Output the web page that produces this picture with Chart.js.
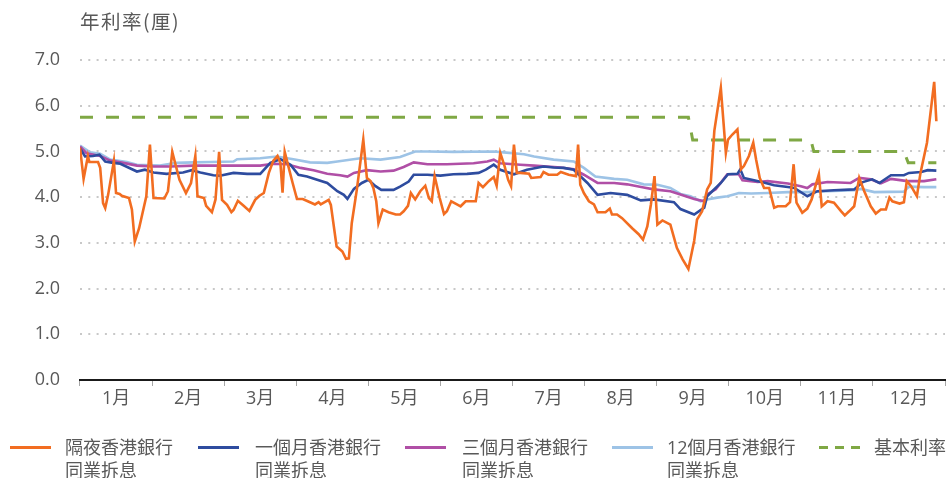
<!DOCTYPE html>
<html>
<head>
<meta charset="utf-8">
<script src="https://cdn.jsdelivr.net/npm/chart.js@4"></script>
<style>
  body { margin: 0; background: #fff; }
  #wrap { position: relative; width: 948px; height: 478px; font-family: 'Open Sans', 'Noto Sans CJK TC', sans-serif; color: #595959; }
  #chart { position: absolute; left: 0; top: 0; }
  .title { position: absolute; left: 80px; top: 7px; font-family: 'Noto Sans CJK TC', sans-serif; font-size: 19.5px; letter-spacing: 1.5px; line-height: 28px; }
  .lg { position: absolute; top: 436px; font-size: 18px; line-height: 23px; }
  .lg .swatch { position: absolute; top: 10px; height: 0; border-top: 3px solid; }
  .lg .txt { position: absolute; white-space: nowrap; }
</style>
</head>
<body>
<div id="wrap">
  <canvas id="chart" width="948" height="478"></canvas>
  <div class="title">年利率(厘)</div>
  <div id="legend"></div>
</div>
<script>
// month labels on the x axis
const months = ['1月', '2月', '3月', '4月', '5月', '6月', '7月', '8月', '9月', '10月', '11月', '12月'];

// time is in months since 1 Jan (0 = start of Jan, 12 = end of Dec)
// overnight HIBOR
const ovnT = [0.00, 0.05, 0.11, 0.13, 0.25, 0.28, 0.32, 0.35, 0.39, 0.47, 0.50, 0.55, 0.58, 0.68, 0.72, 0.76, 0.82, 0.92, 0.97,
  1.02, 1.17, 1.22, 1.28, 1.38, 1.47, 1.54, 1.60, 1.63, 1.72, 1.75, 1.83, 1.88, 1.93, 1.97,
  2.04, 2.10, 2.13, 2.19, 2.27, 2.35, 2.43, 2.49, 2.55, 2.62, 2.68, 2.74, 2.78, 2.81, 2.84, 2.89, 2.95,
  3.01, 3.09, 3.16, 3.26, 3.31, 3.34, 3.45, 3.48, 3.56, 3.64, 3.69, 3.73, 3.77, 3.84, 3.93, 3.98,
  4.03, 4.07, 4.11, 4.14, 4.20, 4.28, 4.38, 4.44, 4.49, 4.55, 4.59, 4.65, 4.72, 4.79, 4.84, 4.88, 4.92, 4.99,
  5.05, 5.09, 5.15, 5.21, 5.28, 5.35, 5.49, 5.53, 5.59, 5.67, 5.74, 5.78, 5.83, 5.89, 5.94, 5.98,
  6.02, 6.06, 6.11, 6.23, 6.26, 6.39, 6.43, 6.50, 6.62, 6.67, 6.78, 6.88, 6.91, 6.94, 6.99,
  7.06, 7.13, 7.18, 7.29, 7.35, 7.38, 7.45, 7.52, 7.66, 7.75, 7.81, 7.87, 7.92, 7.97,
  8.01, 8.08, 8.19, 8.28, 8.36, 8.44, 8.52, 8.56, 8.63, 8.70, 8.75, 8.80, 8.89, 8.96, 8.99,
  9.05, 9.12, 9.17, 9.21, 9.28, 9.34, 9.38, 9.43, 9.49, 9.56, 9.63, 9.68, 9.79, 9.85, 9.90, 9.94,
  10.02, 10.09, 10.15, 10.25, 10.29, 10.32, 10.37, 10.46, 10.56, 10.61, 10.67, 10.74, 10.81, 10.88, 10.97,
  11.04, 11.11, 11.18, 11.23, 11.27, 11.37, 11.43, 11.47, 11.53, 11.61, 11.66, 11.75, 11.85, 11.88];
const ovnV = [5.08, 4.40, 4.90, 4.77, 4.77, 4.64, 3.87, 3.76, 4.05, 4.79, 4.09, 4.07, 4.03, 3.98, 3.73, 3.03, 3.32, 4.02, 5.15,
  3.98, 3.97, 4.13, 4.99, 4.38, 4.09, 4.31, 4.90, 4.02, 3.98, 3.81, 3.67, 3.95, 4.99, 3.94,
  3.83, 3.67, 3.72, 3.92, 3.81, 3.70, 3.94, 4.03, 4.09, 4.53, 4.79, 4.90, 4.75, 4.10, 4.99, 4.68, 4.31,
  3.96, 3.96, 3.91, 3.84, 3.89, 3.84, 3.94, 3.83, 2.92, 2.81, 2.65, 2.66, 3.43, 4.16, 5.26, 4.42,
  4.35, 4.20, 3.91, 3.43, 3.73, 3.67, 3.62, 3.62, 3.69, 3.81, 4.09, 3.95, 4.13, 4.25, 3.98, 3.91, 4.46, 3.98,
  3.63, 3.69, 3.91, 3.86, 3.80, 3.91, 3.91, 4.31, 4.22, 4.35, 4.44, 4.25, 4.97, 4.68, 4.38, 4.24,
  5.15, 4.53, 4.53, 4.51, 4.42, 4.44, 4.55, 4.49, 4.49, 4.55, 4.49, 4.46, 5.15, 4.27, 4.09,
  3.91, 3.84, 3.67, 3.67, 3.75, 3.62, 3.62, 3.54, 3.32, 3.19, 3.07, 3.36, 3.84, 4.46,
  3.40, 3.49, 3.40, 2.89, 2.64, 2.43, 3.04, 3.51, 3.69, 4.17, 4.31, 5.45, 6.39, 4.97, 5.26,
  5.37, 5.48, 4.61, 4.68, 4.90, 5.19, 4.82, 4.42, 4.20, 4.20, 3.77, 3.80, 3.80, 3.89, 4.72, 3.88,
  3.66, 3.75, 3.95, 4.50, 3.80, 3.84, 3.91, 3.88, 3.69, 3.60, 3.69, 3.80, 4.42, 4.13, 3.80,
  3.64, 3.73, 3.73, 3.99, 3.91, 3.86, 3.89, 4.35, 4.24, 4.02, 4.53, 5.19, 6.52, 5.66];

// 1-month HIBOR
const m1T = [0.00, 0.07, 0.18, 0.27, 0.35, 0.46, 0.56, 0.79, 0.90, 1.02, 1.20, 1.43, 1.55, 1.67, 1.85, 1.94,
  2.13, 2.32, 2.50, 2.64, 2.78, 2.92, 3.03, 3.15, 3.29, 3.43, 3.57, 3.66, 3.71, 3.80, 3.91, 4.00,
  4.10, 4.18, 4.35, 4.44, 4.56, 4.63, 4.82, 5.00, 5.18, 5.37, 5.53, 5.63, 5.74, 5.83,
  6.02, 6.20, 6.43, 6.57, 6.71, 6.85, 6.92, 7.04, 7.18, 7.36, 7.59, 7.78, 7.96,
  8.24, 8.33, 8.52, 8.66, 8.70, 8.89, 8.99, 9.12, 9.16, 9.21, 9.35, 9.51, 9.63, 9.82, 9.91,
  10.09, 10.23, 10.46, 10.74, 10.86, 10.99, 11.09, 11.25, 11.43, 11.50, 11.67, 11.76, 11.88];
const m1V = [5.07, 4.89, 4.90, 4.93, 4.78, 4.75, 4.73, 4.56, 4.60, 4.54, 4.51, 4.54, 4.59, 4.54, 4.48, 4.47,
  4.53, 4.51, 4.51, 4.75, 4.83, 4.71, 4.49, 4.45, 4.38, 4.31, 4.13, 4.05, 3.96, 4.18, 4.31, 4.38,
  4.24, 4.16, 4.16, 4.23, 4.34, 4.49, 4.49, 4.47, 4.50, 4.51, 4.53, 4.60, 4.71, 4.60,
  4.50, 4.60, 4.67, 4.65, 4.64, 4.60, 4.49, 4.31, 4.05, 4.09, 4.05, 3.93, 3.95,
  3.89, 3.74, 3.62, 3.77, 4.02, 4.31, 4.50, 4.51, 4.61, 4.42, 4.37, 4.31, 4.26, 4.22, 4.20,
  4.02, 4.13, 4.15, 4.17, 4.33, 4.39, 4.31, 4.48, 4.48, 4.53, 4.55, 4.59, 4.58];

// 3-month HIBOR
const m3T = [0.00, 0.09, 0.28, 0.42, 0.60, 0.79, 1.02, 1.25, 1.57, 1.67, 2.04, 2.50, 2.68, 2.87,
  3.06, 3.24, 3.43, 3.61, 3.71, 3.80, 3.98, 4.17, 4.35, 4.49, 4.63, 4.82, 5.09, 5.46, 5.65, 5.74, 5.83,
  6.11, 6.30, 6.48, 6.67, 6.85, 6.99, 7.18, 7.41, 7.59, 7.82, 7.96, 8.19, 8.33, 8.52, 8.66, 8.70, 8.82, 8.98,
  9.14, 9.19, 9.40, 9.54, 9.82, 10.00, 10.09, 10.16, 10.37, 10.69, 10.81, 10.97, 11.11, 11.25, 11.48, 11.71, 11.88];
const m3V = [5.11, 4.96, 4.90, 4.80, 4.75, 4.69, 4.67, 4.67, 4.69, 4.69, 4.69, 4.69, 4.73, 4.72,
  4.64, 4.59, 4.51, 4.48, 4.45, 4.53, 4.59, 4.56, 4.58, 4.66, 4.76, 4.72, 4.72, 4.74, 4.78, 4.82, 4.74,
  4.71, 4.69, 4.67, 4.65, 4.61, 4.49, 4.31, 4.31, 4.28, 4.21, 4.17, 4.13, 4.06, 3.96, 3.91, 4.06, 4.17, 4.50,
  4.50, 4.37, 4.33, 4.35, 4.30, 4.24, 4.20, 4.28, 4.33, 4.31, 4.42, 4.39, 4.30, 4.40, 4.35, 4.35, 4.39];

// 12-month HIBOR
const m12T = [0.00, 0.14, 0.28, 0.42, 0.65, 0.79, 1.11, 1.34, 1.57, 1.81, 2.13, 2.18, 2.50, 2.73, 2.96,
  3.19, 3.43, 3.57, 3.89, 4.17, 4.44, 4.65, 4.82, 5.18, 5.74, 5.88, 6.16, 6.30, 6.57, 6.85, 6.99,
  7.15, 7.41, 7.59, 7.82, 8.01, 8.19, 8.33, 8.47, 8.61, 8.70, 8.84, 8.98, 9.07, 9.14, 9.31, 9.54, 9.82,
  10.09, 10.37, 10.74, 10.83, 11.02, 11.43, 11.50, 11.71, 11.88];
const m12V = [5.13, 4.98, 4.95, 4.82, 4.77, 4.71, 4.69, 4.75, 4.76, 4.77, 4.78, 4.83, 4.85, 4.89, 4.83,
  4.76, 4.75, 4.78, 4.85, 4.82, 4.88, 5.00, 5.00, 4.99, 5.00, 4.98, 4.94, 4.89, 4.82, 4.78, 4.64,
  4.45, 4.40, 4.38, 4.28, 4.27, 4.20, 4.07, 4.02, 3.91, 3.95, 3.99, 4.02, 4.06, 4.09, 4.08, 4.09, 4.11,
  4.11, 4.13, 4.15, 4.18, 4.11, 4.12, 4.23, 4.22, 4.22];

// prime rate
const primeT = [0.00, 8.44, 8.50, 10.14, 10.18, 11.43, 11.49, 11.88];
const primeV = [5.75, 5.75, 5.25, 5.25, 5.00, 5.00, 4.75, 4.75];

// y axis ticks
const yTicks = [0, 1, 2, 3, 4, 5, 6, 7];

const series = [
  { name: ['隔夜香港銀行', '同業拆息'], t: ovnT, v: ovnV, color: '#F26D21', dash: [], legendX: 10, textX: 65 },
  { name: ['一個月香港銀行', '同業拆息'], t: m1T, v: m1V, color: '#2E4C9F', dash: [], legendX: 198, textX: 255 },
  { name: ['三個月香港銀行', '同業拆息'], t: m3T, v: m3V, color: '#B04FA6', dash: [], legendX: 405, textX: 462 },
  { name: ['12個月香港銀行', '同業拆息'], t: m12T, v: m12V, color: '#9DC3E6', dash: [], legendX: 612, textX: 667 },
  { name: ['基本利率'], t: primeT, v: primeV, color: '#7FA844', dash: [13, 13], legendX: 819, textX: 874 }
];

const toPoints = (t, v) => t.map((x, i) => ({ x: x, y: v[i] }));

const datasets = series.map((s, i) => ({
  label: s.name.join(''),
  data: toPoints(s.t, s.v),
  xAxisID: 'xd',
  yAxisID: 'y',
  borderColor: s.color,
  borderWidth: i === 4 ? 3 : 2.6,
  borderDash: s.dash,
  pointRadius: 0,
  tension: 0,
  fill: false
}));

new Chart(document.getElementById('chart'), {
  type: 'line',
  data: { labels: months, datasets: datasets },
  options: {
    responsive: false,
    animation: false,
    layout: { padding: { top: 60, right: 3, bottom: 58, left: 0 } },
    plugins: { legend: { display: false }, tooltip: { enabled: false } },
    scales: {
      x: {
        type: 'category',
        offset: true,
        grid: { offset: true, drawOnChartArea: false, drawTicks: true, tickLength: 6, color: '#A6A6A6', lineWidth: 1 },
        border: { color: '#1a1a1a', width: 2 },
        ticks: { color: '#595959', font: { family: "'Open Sans', 'Noto Sans CJK TC'", size: 18 }, padding: 2, maxRotation: 0, autoSkip: false },
        afterFit: s => { s.height = 40; }
      },
      xd: { type: 'linear', display: false, min: 0, max: 12 },
      y: {
        min: yTicks[0],
        max: yTicks[yTicks.length - 1],
        afterBuildTicks: s => { s.ticks = yTicks.map(v => ({ value: v })); },
        grid: { color: '#C8C8C8', lineWidth: 2, drawTicks: false },
        border: { display: false, dash: [2, 6.3] },
        ticks: { color: '#595959', font: { family: "'Open Sans'", size: 18 }, padding: 20, callback: v => v.toFixed(1) },
        afterFit: s => { s.width = 80; }
      }
    }
  }
});

// legend below the chart
const legend = document.getElementById('legend');
series.forEach(s => {
  const item = document.createElement('div');
  item.className = 'lg';
  item.style.left = '0px';
  const sw = document.createElement('div');
  sw.className = 'swatch';
  sw.style.left = s.legendX + 'px';
  sw.style.width = '41px';
  if (s.dash.length) {
    sw.style.borderTop = '0';
    sw.style.height = '3px';
    sw.style.background = 'repeating-linear-gradient(90deg, ' + s.color + ' 0 9px, transparent 9px 16px)';
  } else {
    sw.style.borderTopColor = s.color;
  }
  const txt = document.createElement('div');
  txt.className = 'txt';
  txt.style.left = s.textX + 'px';
  txt.innerHTML = s.name.join('<br>');
  item.appendChild(sw);
  item.appendChild(txt);
  legend.appendChild(item);
});
</script>
</body>
</html>
